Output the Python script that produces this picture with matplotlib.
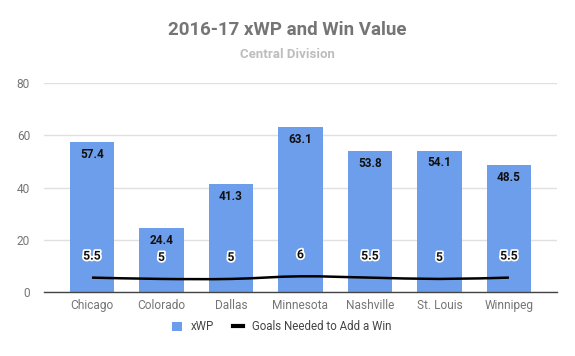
import matplotlib
matplotlib.use("Agg")
import matplotlib.pyplot as plt
import matplotlib.patheffects as pe
from matplotlib.path import Path
from matplotlib.patches import PathPatch
from matplotlib.lines import Line2D
from matplotlib.patches import Patch
import numpy as np

plt.rcParams['font.family'] = ['Roboto', 'DejaVu Sans']

teams = ["Chicago", "Colorado", "Dallas", "Minnesota", "Nashville", "St. Louis", "Winnipeg"]
xwp = [57.4, 24.4, 41.3, 63.1, 53.8, 54.1, 48.5]
goals = [5.5, 5, 5, 6, 5.5, 5, 5.5]
goal_labels = ["5.5", "5", "5", "6", "5.5", "5", "5.5"]
yticks = [0, 20, 40, 60, 80]

fig = plt.figure(figsize=(5.75, 3.56), dpi=100)
ax = fig.add_axes([0.0765, 0.1798, 0.892, 0.587])

x = np.arange(len(teams))
ax.bar(x, xwp, width=0.645, color="#6d9eeb", zorder=2)

# smoothed line through goal points (Catmull-Rom -> Bezier)
pts = list(zip(x, goals))
verts = [pts[0]]
codes = [Path.MOVETO]
t = 1/6
for i in range(len(pts) - 1):
    p0 = pts[i - 1] if i > 0 else pts[i]
    p1 = pts[i]
    p2 = pts[i + 1]
    p3 = pts[i + 2] if i + 2 < len(pts) else pts[i + 1]
    c1 = (p1[0] + (p2[0] - p0[0]) * t, p1[1] + (p2[1] - p0[1]) * t)
    c2 = (p2[0] - (p3[0] - p1[0]) * t, p2[1] - (p3[1] - p1[1]) * t)
    verts += [c1, c2, p2]
    codes += [Path.CURVE4] * 3
ax.add_patch(PathPatch(Path(verts, codes), facecolor="none", edgecolor="black", lw=1.8, zorder=3))

for xi, v in zip(x, xwp):
    ax.annotate(f"{v}", (xi, v), xytext=(0, -4), textcoords="offset points",
                ha="center", va="top", fontsize=8.5, fontweight="bold", color="#111111", zorder=4)

for xi, v, lab in zip(x, goals, goal_labels):
    ax.annotate(lab, (xi, v), xytext=(0, 15.5), textcoords="offset points",
                ha="center", va="center", fontsize=8.8, fontweight="bold", color="#111111", zorder=4,
                path_effects=[pe.withStroke(linewidth=2.5, foreground="white")])

ax.set_xlim(-0.69, 6.69)
ax.set_ylim(0, 80)
ax.set_yticks(yticks)
ax.set_xticks(x)
ax.set_xticklabels(teams)
ax.tick_params(axis="both", length=0, labelsize=8.6, labelcolor="#757575")
ax.tick_params(axis="x", pad=5)
ax.tick_params(axis="y", pad=10)
ax.grid(axis="y", color="#e0e0e0", lw=1, zorder=0)
ax.set_axisbelow(True)
for s in ["top", "right", "left"]:
    ax.spines[s].set_visible(False)
ax.spines["bottom"].set_color("#444444")
ax.spines["bottom"].set_linewidth(1)
ax.spines["bottom"].set_zorder(5)

fig.text(0.5, 1 - 30/356, "2016-17 xWP and Win Value", ha="center", va="center",
         fontsize=13.5, fontweight="bold", color="#757575")
fig.text(0.5, 1 - 55/356, "Central Division", ha="center", va="center",
         fontsize=9.5, fontweight="bold", color="#bdbdbd")

handles = [Patch(facecolor="#6d9eeb", edgecolor="none"),
           Line2D([0], [0], color="black", lw=3)]
leg = fig.legend(handles, ["xWP", "Goals Needed to Add a Win"], loc="center",
                 bbox_to_anchor=(0.49, 1 - 327/356), ncol=2, frameon=False,
                 fontsize=8.3, handlelength=0.9, handleheight=0.9, handletextpad=0.8,
                 columnspacing=1.6)
for t_ in leg.get_texts():
    t_.set_color("#444444")

fig.savefig("out.png", dpi=100)
